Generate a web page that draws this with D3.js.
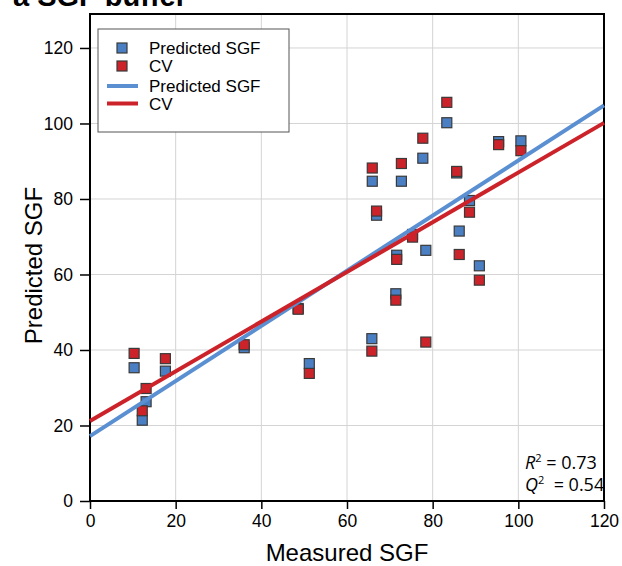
<!DOCTYPE html>
<html>
<head>
<meta charset="utf-8">
<script src="https://cdn.jsdelivr.net/npm/d3@7"></script>
<style>
    body { margin: 0; background: white; }
    text { font-family: "Liberation Sans", Arial, sans-serif; }
</style>
</head>
<body>
<div id="graphContainer"></div>
<script>
"use strict";

// Measured SGF (x) for each sample
const measured = [10.3, 12.2, 13.1, 17.6, 36.0, 48.6, 51.2, 65.8, 65.9, 66.9, 71.4, 71.6,
    72.7, 75.3, 77.7, 78.4, 83.3, 85.6, 86.2, 88.6, 90.9, 95.4, 100.6];
// Predicted SGF from the model
const predicted = [35.3, 21.4, 26.3, 34.4, 40.6, 51.0, 36.4, 43.0, 84.7, 75.7, 54.9, 65.1,
    84.7, 70.6, 90.8, 66.4, 100.2, 86.9, 71.5, 79.6, 62.3, 95.2, 95.4];
// Cross-validated predictions
const cv = [39.1, 23.9, 29.8, 37.7, 41.4, 50.8, 33.8, 39.7, 88.2, 76.8, 53.2, 64.0,
    89.4, 69.9, 96.1, 42.1, 105.6, 87.3, 65.3, 76.5, 58.5, 94.4, 92.8];

// Fitted lines: [Predicted SGF, CV]
const seriesNames = ["Predicted SGF", "CV"];
const fitIntercepts = [17.2, 21.2];
const fitSlopes = [0.73, 0.658];

const xTicks = [0, 20, 40, 60, 80, 100, 120];
const yTicks = [0, 20, 40, 60, 80, 100, 120];
const stats = [["R", "2", " = 0.73"], ["Q", "2", "  = 0.54"]];

const colors = ["#4a7fc4", "#cc2229"];
const lineColors = ["#5a8fd2", "#cc2229"];

const graphInfo = {
    width: 622,
    height: 566,
    left: 90,
    right: 604,
    top: 14,
    bottom: 501,
    markerSize: 10
};

const svg = d3.select("#graphContainer").append("svg")
    .attr("width", graphInfo.width)
    .attr("height", graphInfo.height);

const xScale = d3.scaleLinear()
    .domain([0, 120])
    .range([graphInfo.left, graphInfo.right]);

const yScale = d3.scaleLinear()
    .domain([0, 129])
    .range([graphInfo.bottom, graphInfo.top]);

// Title of the panel, cut off by the top of the picture
svg.append("text")
    .attr("x", 13)
    .attr("y", 6)
    .attr("font-size", 29)
    .attr("font-weight", "bold")
    .text("a SGF buffer");

// Grid lines
svg.append("g")
    .selectAll("line")
    .data(xTicks.slice(1, -1))
    .join("line")
    .attr("x1", d => xScale(d)).attr("x2", d => xScale(d))
    .attr("y1", graphInfo.top).attr("y2", graphInfo.bottom)
    .attr("stroke", "#d4d4d4");
svg.append("g")
    .selectAll("line")
    .data(yTicks.slice(1))
    .join("line")
    .attr("x1", graphInfo.left).attr("x2", graphInfo.right)
    .attr("y1", d => yScale(d)).attr("y2", d => yScale(d))
    .attr("stroke", "#d4d4d4");

// Axes
svg.append("g")
    .attr("transform", `translate(0,${graphInfo.bottom})`)
    .call(d3.axisBottom(xScale).tickValues(xTicks).tickSize(8).tickPadding(6))
    .call(g => g.select(".domain").remove())
    .call(g => g.selectAll(".tick line").attr("stroke-width", 1.5))
    .call(g => g.selectAll("text").attr("font-size", 17.5).attr("font-family", null).attr("fill", "black"));

svg.append("g")
    .attr("transform", `translate(${graphInfo.left},0)`)
    .call(d3.axisLeft(yScale).tickValues(yTicks).tickSize(10).tickPadding(7))
    .call(g => g.select(".domain").remove())
    .call(g => g.selectAll(".tick line").attr("stroke-width", 1.5))
    .call(g => g.selectAll("text").attr("font-size", 17.5).attr("font-family", null).attr("fill", "black"));

// Frame around the plot
svg.append("rect")
    .attr("x", graphInfo.left)
    .attr("y", graphInfo.top)
    .attr("width", graphInfo.right - graphInfo.left)
    .attr("height", graphInfo.bottom - graphInfo.top)
    .attr("fill", "none")
    .attr("stroke", "black")
    .attr("stroke-width", 2);

// Axis labels
svg.append("text")
    .attr("x", (graphInfo.left + graphInfo.right) / 2)
    .attr("y", 561)
    .attr("text-anchor", "middle")
    .attr("font-size", 24)
    .text("Measured SGF");

svg.append("text")
    .attr("transform", `translate(42,${(graphInfo.top + graphInfo.bottom) / 2 + 8}) rotate(-90)`)
    .attr("text-anchor", "middle")
    .attr("font-size", 24)
    .text("Predicted SGF");

// Square markers, Predicted SGF first then CV on top
[predicted, cv].forEach(function (values, i) {
    const s = graphInfo.markerSize;
    svg.append("g")
        .selectAll("rect")
        .data(measured.map((m, j) => ({ x: m, y: values[j] })))
        .join("rect")
        .attr("x", d => xScale(d.x) - s / 2)
        .attr("y", d => yScale(d.y) - s / 2)
        .attr("width", s)
        .attr("height", s)
        .attr("fill", colors[i])
        .attr("stroke", "#3a3a3a")
        .attr("stroke-width", 1.2);
});

// Fitted lines on top of the markers
const line = d3.line()
    .x(d => xScale(d.x))
    .y(d => yScale(d.y));

seriesNames.forEach(function (name, i) {
    const ends = xScale.domain().map(x => ({ x: x, y: fitIntercepts[i] + fitSlopes[i] * x }));
    svg.append("path")
        .datum(ends)
        .attr("fill", "none")
        .attr("stroke", lineColors[i])
        .attr("stroke-width", 4)
        .attr("d", line);
});

// Legend
const legend = svg.append("g");
legend.append("rect")
    .attr("x", 98).attr("y", 29)
    .attr("width", 191).attr("height", 103)
    .attr("fill", "white")
    .attr("stroke", "#555")
    .attr("stroke-width", 1);

seriesNames.forEach(function (name, i) {
    const y = 48 + i * 18;
    legend.append("rect")
        .attr("x", 117).attr("y", y - 5)
        .attr("width", 10).attr("height", 10)
        .attr("fill", colors[i])
        .attr("stroke", "#3a3a3a")
        .attr("stroke-width", 1.2);
    legend.append("text")
        .attr("x", 149).attr("y", y + 6)
        .attr("font-size", 17)
        .text(name);
});

seriesNames.forEach(function (name, i) {
    const y = 86 + i * 17.5;
    legend.append("line")
        .attr("x1", 107).attr("x2", 138)
        .attr("y1", y).attr("y2", y)
        .attr("stroke", lineColors[i])
        .attr("stroke-width", 4);
    legend.append("text")
        .attr("x", 149).attr("y", y + 6)
        .attr("font-size", 17)
        .text(name);
});

// R² and Q² in the lower right corner
stats.forEach(function (s, i) {
    const t = svg.append("text")
        .attr("x", 525)
        .attr("y", 469 + i * 22)
        .attr("font-size", 18)
        .style("font-family", "'Open Sans', sans-serif")
        .style("white-space", "pre");
    t.append("tspan").attr("font-style", "italic").text(s[0]);
    t.append("tspan").attr("font-size", 11).attr("dy", -7).text(s[1]);
    t.append("tspan").attr("dy", 7).text(s[2]);
});
</script>
</body>
</html>
